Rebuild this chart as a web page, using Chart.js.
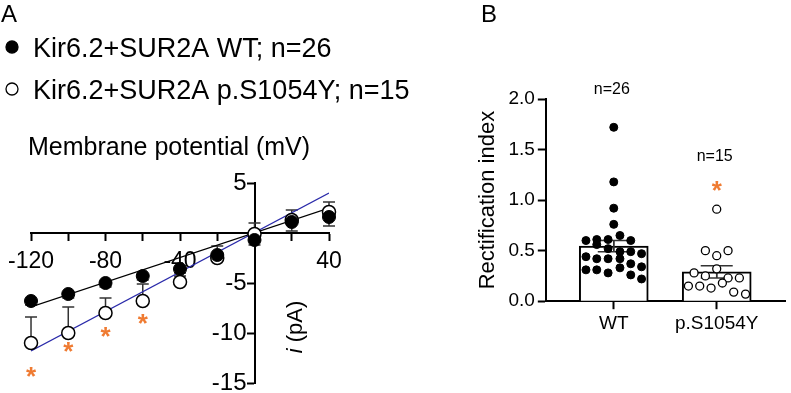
<!DOCTYPE html>
<html>
<head>
<meta charset="utf-8">
<script src="https://cdn.jsdelivr.net/npm/chart.js@4.4.1/dist/chart.umd.min.js"></script>
<style>
  html, body { margin: 0; padding: 0; background: #fff; }
  #wrap { position: relative; width: 791px; height: 393px; overflow: hidden; }
  #panelA { position: absolute; left: 0; top: 0; }
  #panelB { position: absolute; left: 470px; top: 0; }
</style>
</head>
<body>
<div id="wrap">
  <canvas id="panelA" width="470" height="393"></canvas>
  <canvas id="panelB" width="321" height="393"></canvas>
</div>
<script>
"use strict";

// ---- Panel A: I-V relationship ----
const voltage = [-120, -100, -80, -60, -40, -20, 0, 20, 40];
const wtCurrent = [-6.8, -6.1, -5.0, -4.3, -3.6, -2.2, -0.7, 1.1, 1.6];
const wtSem = [0.4, 0.4, 0.4, 0.4, 0.4, 0.4, 0.5, 0.9, 0.9];
const mutCurrent = [-11.0, -10.0, -8.0, -6.8, -4.9, -2.5, -0.1, 1.3, 2.1];
const mutSem = [2.6, 2.6, 1.5, 1.7, 0.6, 1.2, 1.1, 1.0, 1.0];
const fitVoltage = [-120, 40];
const wtFit = [-7.4, 2.5];
const mutFit = [-11.8, 4.0];
const starVoltage = [-120, -100, -80, -60];
const starCurrent = [-13.9, -11.4, -9.9, -8.6];
const seriesLabels = ["Kir6.2+SUR2A WT; n=26", "Kir6.2+SUR2A p.S1054Y; n=15"];

// ---- Panel B: rectification index ----
const groups = ["WT", "p.S1054Y"];
const groupMean = [0.545, 0.29];
const groupSem = [0.055, 0.06];
const groupN = ["n=26", "n=15"];
const nLabelLevel = [2.05, 1.39];
const starGroup = [2];
const starLevel = [1.14];
const wtIndex = [1.72, 1.18, 0.92, 0.76, 0.65, 0.60, 0.61, 0.61, 0.60, 0.56, 0.52, 0.49, 0.49,
                 0.47, 0.44, 0.42, 0.42, 0.42, 0.37, 0.34, 0.31, 0.31, 0.28, 0.33, 0.26, 0.22];
const wtSpread = [0, 0, 0, 0, 0.06, -0.27, -0.165, -0.055, 0.165, -0.165, -0.055, 0.06, 0.165,
                  0.27, -0.27, -0.165, -0.055, 0.06, 0.165, 0.27, -0.27, -0.165, -0.055, 0.06, 0.165, 0.27];
const mutIndex = [0.91, 0.50, 0.45, 0.50, 0.32, 0.28, 0.25, 0.23, 0.23, 0.18, 0.15, 0.15, 0.13, 0.09, 0.07];
const mutSpread = [0, -0.11, 0, 0.11, 0, -0.22, -0.11, 0.11, 0.22, 0.055, -0.275, -0.165, -0.055, 0.165, 0.28];

const FONT = '"Liberation Sans", Arial, Helvetica, sans-serif';
const ORANGE = "#ef7b32";
Chart.defaults.font.family = FONT;
Chart.defaults.color = "#000";
Chart.defaults.animation = false;

function drawStar(ctx, x, y, size) {
    ctx.save();
    ctx.font = "bold " + size + "px " + FONT;
    ctx.fillStyle = ORANGE;
    ctx.textAlign = "center";
    ctx.textBaseline = "alphabetic";
    const m = ctx.measureText("*");
    ctx.fillText("*", x, y + (m.actualBoundingBoxAscent - m.actualBoundingBoxDescent) / 2);
    ctx.restore();
}

function errorBar(ctx, x, yFrom, yTo, half) {
    ctx.beginPath();
    ctx.moveTo(x, yFrom);
    ctx.lineTo(x, yTo);
    ctx.moveTo(x - half, yTo);
    ctx.lineTo(x + half, yTo);
    ctx.stroke();
}

const axisStyle = {
    grid: { drawOnChartArea: false, tickLength: 7, tickWidth: 2, tickColor: "#000" },
    border: { color: "#000", width: 2 },
};

/**
 * Extras for panel A: error bars, asterisks, y tick labels, legend, panel letter, y title
 */
const ivExtras = {
    id: "ivExtras",
    beforeDatasetsDraw(chart) {
        const { ctx, scales: { x, y } } = chart;
        ctx.save();
        ctx.strokeStyle = "#333";
        ctx.lineWidth = 1.5;
        voltage.forEach((v, i) => {
            const px = x.getPixelForValue(v);
            errorBar(ctx, px, y.getPixelForValue(mutCurrent[i]), y.getPixelForValue(mutCurrent[i] + mutSem[i]), 6);
            errorBar(ctx, px, y.getPixelForValue(wtCurrent[i]), y.getPixelForValue(wtCurrent[i] - wtSem[i]), 6);
        });
        ctx.restore();
    },
    afterDatasetsDraw(chart) {
        const { ctx, scales: { x, y } } = chart;
        starVoltage.forEach((v, i) => {
            drawStar(ctx, x.getPixelForValue(v), y.getPixelForValue(starCurrent[i]), 26);
        });
    },
    afterDraw(chart) {
        const { ctx, scales: { x, y } } = chart;
        ctx.save();
        ctx.fillStyle = "#000";

        // y tick labels, left of the tick marks of the axis that crosses at 0 mV
        const axisX = x.getPixelForValue(0);
        ctx.font = "24px " + FONT;
        ctx.textAlign = "right";
        ctx.textBaseline = "middle";
        y.ticks.forEach((t) => {
            if (t.value !== 0) ctx.fillText(String(t.value), axisX - 8, y.getPixelForValue(t.value));
        });

        ctx.textAlign = "left";
        ctx.textBaseline = "alphabetic";
        ctx.fillText("A", 1, 22);

        // legend
        const rows = [57, 99];
        [0, 1].forEach((d, i) => {
            const ds = chart.data.datasets[d];
            ctx.beginPath();
            ctx.arc(12, rows[i] - 10, 6, 0, Math.PI * 2);
            ctx.fillStyle = ds.backgroundColor;
            ctx.fill();
            ctx.lineWidth = 1.3;
            ctx.strokeStyle = ds.borderColor;
            ctx.stroke();
            ctx.fillStyle = "#000";
            ctx.font = "27px " + FONT;
            ctx.fillText(ds.label, 33, rows[i]);
        });

        // y axis title, to the right of the axis
        ctx.translate(axisX + 41, y.getPixelForValue(-9.4));
        ctx.rotate(-Math.PI / 2);
        ctx.textBaseline = "middle";
        ctx.font = "italic 22px " + FONT;
        const wi = ctx.measureText("i").width;
        ctx.font = "22px " + FONT;
        const wr = ctx.measureText(" (pA)").width;
        const start = -(wi + wr) / 2;
        ctx.font = "italic 22px " + FONT;
        ctx.fillText("i", start, 0);
        ctx.font = "22px " + FONT;
        ctx.fillText(" (pA)", start + wi, 0);
        ctx.restore();
    },
};

new Chart(document.querySelector("#panelA"), {
    type: "scatter",
    data: {
        datasets: [
            {
                label: seriesLabels[0],
                data: voltage.map((v, i) => ({ x: v, y: wtCurrent[i] })),
                pointRadius: 6.5,
                backgroundColor: "#000",
                borderColor: "#000",
                borderWidth: 1,
                order: 1,
                clip: false,
            },
            {
                label: seriesLabels[1],
                data: voltage.map((v, i) => ({ x: v, y: mutCurrent[i] })),
                pointRadius: 6.5,
                backgroundColor: "#fff",
                borderColor: "#000",
                borderWidth: 1.5,
                order: 2,
                clip: false,
            },
            {
                label: "WT fit",
                data: fitVoltage.map((v, i) => ({ x: v, y: wtFit[i] })),
                showLine: true,
                pointRadius: 0,
                borderColor: "#000",
                borderWidth: 1.2,
                order: 4,
            },
            {
                label: "p.S1054Y fit",
                data: fitVoltage.map((v, i) => ({ x: v, y: mutFit[i] })),
                showLine: true,
                pointRadius: 0,
                borderColor: "#2b2baa",
                borderWidth: 1.2,
                order: 3,
            },
        ],
    },
    options: {
        responsive: false,
        devicePixelRatio: 1,
        layout: { padding: { left: 28, right: 141, top: 0, bottom: 10 } },
        plugins: {
            legend: { display: false },
            tooltip: { enabled: false },
            title: {
                display: true,
                text: "Membrane potential (mV)",
                align: "start",
                color: "#000",
                font: { size: 25, weight: "normal" },
                padding: { top: 133, bottom: 20 },
            },
        },
        scales: {
            x: {
                type: "linear",
                min: -120,
                max: 40,
                position: { y: 0 },
                ticks: {
                    stepSize: 20,
                    autoSkip: false,
                    maxRotation: 0,
                    padding: 8,
                    color: "#000",
                    font: { size: 23 },
                    callback: (v) => (v % 40 === 0 && v !== 0 ? String(v) : ""),
                },
                ...axisStyle,
            },
            y: {
                type: "linear",
                min: -15,
                max: 5,
                position: { x: 0 },
                ticks: { stepSize: 5, display: false },
                ...axisStyle,
            },
        },
    },
    plugins: [ivExtras],
});

/**
 * Extras for panel B: mean +/- SEM, n labels, asterisk, panel letter
 */
const riExtras = {
    id: "riExtras",
    afterDatasetDraw(chart, args) {
        if (args.index !== 0) return;
        const { ctx, scales: { x, y } } = chart;
        ctx.save();
        ctx.strokeStyle = "#333";
        ctx.lineWidth = 1.5;
        groups.forEach((g, i) => {
            const px = x.getPixelForValue(i + 1);
            const top = y.getPixelForValue(groupMean[i] + groupSem[i]);
            const bottom = y.getPixelForValue(groupMean[i] - groupSem[i]);
            errorBar(ctx, px, bottom, top, 16);
            errorBar(ctx, px, top, bottom, 16);
        });
        ctx.restore();
    },
    afterDraw(chart) {
        const { ctx, scales: { x, y } } = chart;
        ctx.save();
        ctx.fillStyle = "#000";
        ctx.textBaseline = "alphabetic";
        ctx.font = "24px " + FONT;
        ctx.fillText("B", 11, 22);
        ctx.textAlign = "center";
        ctx.font = "16px " + FONT;
        groupN.forEach((t, i) => {
            ctx.fillText(t, x.getPixelForValue(i + 1) - 2, y.getPixelForValue(nLabelLevel[i]));
        });
        ctx.restore();
        starGroup.forEach((g, i) => {
            drawStar(ctx, x.getPixelForValue(g), y.getPixelForValue(starLevel[i]), 26);
        });
    },
};

new Chart(document.querySelector("#panelB"), {
    type: "scatter",
    data: {
        datasets: [
            {
                type: "bar",
                label: "Mean",
                data: groups.map((g, i) => ({ x: i + 1, y: groupMean[i] })),
                backgroundColor: "#fff",
                borderColor: "#000",
                borderWidth: 2,
                barThickness: 69,
                order: 3,
            },
            {
                label: groups[0],
                data: wtIndex.map((v, i) => ({ x: 1 + wtSpread[i], y: v })),
                pointRadius: 4,
                backgroundColor: "#000",
                borderColor: "#000",
                borderWidth: 1,
                order: 1,
                clip: false,
            },
            {
                label: groups[1],
                data: mutIndex.map((v, i) => ({ x: 2 + mutSpread[i], y: v })),
                pointRadius: 4,
                backgroundColor: "#fff",
                borderColor: "#000",
                borderWidth: 1.3,
                order: 2,
                clip: false,
            },
        ],
    },
    options: {
        responsive: false,
        devicePixelRatio: 1,
        layout: { padding: { left: 1, right: 1, top: 99, bottom: 55 } },
        plugins: {
            legend: { display: false },
            tooltip: { enabled: false },
        },
        scales: {
            x: {
                type: "linear",
                min: 0.34,
                max: 2.67,
                offset: false,
                position: "bottom",
                afterBuildTicks: (s) => {
                    s.ticks = groups.map((g, i) => ({ value: i + 1 }));
                },
                ticks: {
                    autoSkip: false,
                    maxRotation: 0,
                    padding: 3,
                    color: "#000",
                    font: { size: 19 },
                    callback: (v) => groups[v - 1],
                },
                grid: { offset: false, drawOnChartArea: false, tickLength: 8, tickWidth: 2, tickColor: "#000" },
                border: { color: "#000", width: 2 },
            },
            y: {
                type: "linear",
                min: 0,
                max: 2,
                position: "left",
                title: {
                    display: true,
                    text: "Rectification index",
                    color: "#000",
                    font: { size: 22 },
                    padding: { top: 4, bottom: 4 },
                },
                ticks: {
                    stepSize: 0.5,
                    padding: 3,
                    color: "#000",
                    font: { size: 19 },
                    callback: (v) => v.toFixed(1),
                },
                grid: { drawOnChartArea: false, tickLength: 8, tickWidth: 2, tickColor: "#000" },
                border: { color: "#000", width: 2 },
            },
        },
    },
    plugins: [riExtras],
});
</script>
</body>
</html>
